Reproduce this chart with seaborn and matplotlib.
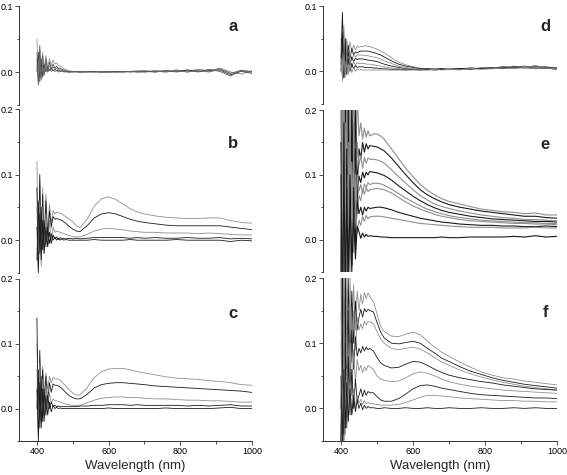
import numpy as np
import pandas as pd
import matplotlib
matplotlib.use("Agg")
import matplotlib.pyplot as plt
import seaborn as sns
from matplotlib.ticker import MultipleLocator, FormatStrFormatter

# ------------------------------
# Data
# ------------------------------
wl = [400, 404, 408, 412, 416, 420, 425, 430, 435, 440, 445, 450, 455, 460, 465, 470, 475, 480,
      490, 500, 510, 520, 540, 560, 580, 600, 620, 640, 660, 680, 700, 730, 760, 790, 820, 850,
      880, 910, 940, 970, 1000]

# panel a
a1 = [0.05, -0.015, 0.035, -0.005, 0.03, 0.0, 0.025, 0.008, 0.02, 0.01, 0.018, 0.012, 0.014, 0.01, 0.009, 0.007, 0.005, 0.004,
      0.002, 0.001, 0.0, 0.001, 0.0, 0.001, -0.001, 0.0, 0.001, 0.0, 0.001, 0.002, 0.001, 0.002, 0.0, 0.003, 0.001, 0.004, 0.002, 0.005, -0.002, 0.003, 0.001]
a2 = [0.02, -0.02, 0.04, -0.01, 0.025, -0.005, 0.02, 0.0, 0.015, 0.005, 0.012, 0.006, 0.009, 0.005, 0.006, 0.004, 0.003, 0.002,
      0.001, 0.0, 0.001, 0.0, 0.001, 0.0, 0.0, 0.001, 0.0, 0.001, 0.0, 0.001, 0.002, 0.0, 0.002, 0.001, 0.003, 0.0, 0.004, 0.001, -0.006, 0.002, 0.0]
a3 = [0.03, -0.01, 0.02, -0.012, 0.02, -0.004, 0.012, 0.002, 0.01, 0.004, 0.008, 0.004, 0.006, 0.003, 0.004, 0.002, 0.002, 0.001,
      0.0, 0.001, 0.0, 0.0, 0.001, 0.0, 0.001, 0.0, 0.0, 0.001, 0.0, 0.001, 0.0, 0.002, 0.001, 0.003, 0.0, 0.004, 0.001, 0.006, 0.0, -0.003, 0.002]
a4 = [0.0, 0.03, -0.015, 0.02, -0.008, 0.012, 0.0, 0.008, 0.002, 0.006, 0.002, 0.004, 0.002, 0.003, 0.001, 0.002, 0.001, 0.001,
      0.0, 0.0, 0.001, 0.0, 0.0, 0.001, 0.0, 0.0, 0.001, 0.0, 0.001, 0.0, 0.001, 0.0, 0.002, 0.0, 0.003, 0.001, 0.002, 0.003, -0.004, 0.001, -0.002]
a5 = [0.01, -0.01, 0.015, -0.006, 0.01, -0.003, 0.006, 0.0, 0.004, 0.001, 0.003, 0.001, 0.002, 0.0, 0.001, 0.001, 0.0, 0.0,
      0.0, 0.001, 0.0, 0.0, 0.0, 0.0, 0.001, 0.0, 0.0, 0.0, 0.001, 0.0, 0.0, 0.001, 0.0, 0.002, 0.0, 0.002, 0.0, 0.004, -0.002, 0.002, 0.0]

# panel b
b1 = [0.12, -0.02, 0.09, -0.03, 0.08, 0.0, 0.07, 0.01, 0.055, 0.025, 0.045, 0.04, 0.043, 0.042, 0.041, 0.04, 0.038, 0.036,
      0.032, 0.028, 0.022, 0.019, 0.032, 0.052, 0.063, 0.066, 0.062, 0.055, 0.048, 0.043, 0.04, 0.037, 0.035, 0.034, 0.033, 0.033, 0.034, 0.034, 0.03, 0.027, 0.026]
b2 = [0.08, -0.04, 0.1, -0.02, 0.07, -0.01, 0.06, 0.0, 0.045, 0.02, 0.036, 0.032, 0.033, 0.032, 0.031, 0.03, 0.028, 0.026,
      0.021, 0.017, 0.014, 0.013, 0.022, 0.034, 0.04, 0.042, 0.04, 0.036, 0.032, 0.029, 0.027, 0.025, 0.023, 0.022, 0.022, 0.022, 0.022, 0.022, 0.02, 0.018, 0.016]
b3 = [0.05, -0.03, 0.06, -0.04, 0.05, -0.02, 0.04, -0.01, 0.03, 0.0, 0.02, 0.012, 0.014, 0.013, 0.012, 0.011, 0.01, 0.009,
      0.007, 0.006, 0.005, 0.005, 0.009, 0.014, 0.017, 0.018, 0.017, 0.016, 0.014, 0.013, 0.012, 0.012, 0.011, 0.011, 0.011, 0.01, 0.011, 0.01, 0.009, 0.008, 0.008]
b4 = [0.02, -0.05, 0.04, -0.03, 0.03, -0.02, 0.02, -0.01, 0.012, -0.005, 0.008, 0.002, 0.005, 0.001, 0.004, 0.002, 0.003, 0.002,
      0.003, 0.002, 0.003, 0.002, 0.003, 0.004, 0.004, 0.004, 0.004, 0.004, 0.003, 0.004, 0.003, 0.004, 0.003, 0.003, 0.004, 0.003, 0.003, 0.004, 0.002, 0.003, 0.002]
b5 = [-0.03, 0.06, -0.02, 0.05, -0.015, 0.03, -0.01, 0.02, -0.005, 0.01, 0.0, 0.005, 0.0, 0.003, 0.0, 0.002, 0.0, 0.001,
      0.0, 0.0, 0.0, 0.0, 0.0, 0.001, 0.0, 0.0, 0.0, 0.0, 0.001, 0.0, 0.0, 0.0, 0.0, 0.001, 0.0, 0.0, 0.0, 0.0, -0.002, 0.0, -0.001]

# panel c
c1 = [0.1, 0.0, 0.08, 0.01, 0.065, 0.02, 0.055, 0.03, 0.05, 0.04, 0.048, 0.046, 0.046, 0.045, 0.044, 0.041, 0.038, 0.035,
      0.029, 0.024, 0.021, 0.021, 0.032, 0.048, 0.057, 0.061, 0.062, 0.062, 0.06, 0.057, 0.055, 0.052, 0.049, 0.047, 0.046, 0.045, 0.043, 0.042, 0.04, 0.037, 0.036]
c2 = [0.14, -0.03, 0.09, -0.02, 0.06, 0.0, 0.05, 0.01, 0.04, 0.025, 0.038, 0.036, 0.036, 0.035, 0.033, 0.031, 0.028, 0.025,
      0.02, 0.017, 0.015, 0.015, 0.022, 0.032, 0.037, 0.039, 0.04, 0.04, 0.039, 0.038, 0.037, 0.035, 0.034, 0.033, 0.032, 0.031, 0.03, 0.029, 0.028, 0.027, 0.025]
c3 = [0.06, -0.04, 0.07, -0.02, 0.045, -0.01, 0.035, 0.0, 0.025, 0.008, 0.015, 0.012, 0.012, 0.011, 0.01, 0.009, 0.008, 0.007,
      0.006, 0.005, 0.005, 0.005, 0.009, 0.013, 0.016, 0.017, 0.018, 0.018, 0.017, 0.017, 0.016, 0.015, 0.015, 0.014, 0.013, 0.013, 0.012, 0.012, 0.011, 0.01, 0.01]
c4 = [0.0, 0.06, -0.03, 0.05, -0.02, 0.03, -0.01, 0.02, 0.0, 0.01, 0.003, 0.005, 0.003, 0.004, 0.003, 0.003, 0.003, 0.003,
      0.003, 0.003, 0.003, 0.004, 0.004, 0.005, 0.005, 0.006, 0.006, 0.006, 0.005, 0.006, 0.005, 0.005, 0.005, 0.005, 0.004, 0.005, 0.004, 0.005, 0.006, 0.004, 0.004]
c5 = [0.03, -0.05, 0.04, -0.03, 0.03, -0.02, 0.02, -0.01, 0.01, -0.005, 0.005, 0.0, 0.002, 0.0, 0.001, 0.0, 0.0, 0.0,
      0.0, 0.0, 0.0, 0.0, 0.0, 0.0, 0.0, 0.001, 0.0, 0.0, 0.0, 0.0, 0.0, 0.0, 0.001, 0.0, 0.0, 0.0, 0.0, 0.001, 0.002, 0.0, 0.0]

# panel d
d1 = [0.05, 0.01, 0.07, 0.02, 0.05, 0.025, 0.045, 0.03, 0.04, 0.033, 0.038, 0.037, 0.038, 0.038, 0.039, 0.039, 0.038, 0.038,
      0.036, 0.034, 0.031, 0.028, 0.021, 0.014, 0.01, 0.007, 0.005, 0.004, 0.004, 0.003, 0.004, 0.003, 0.005, 0.004, 0.006, 0.005, 0.008, 0.006, 0.009, 0.005, 0.006]
d2 = [0.02, 0.09, 0.0, 0.05, 0.015, 0.04, 0.02, 0.035, 0.025, 0.03, 0.028, 0.03, 0.031, 0.031, 0.031, 0.031, 0.031, 0.03,
      0.029, 0.027, 0.025, 0.022, 0.016, 0.011, 0.008, 0.006, 0.004, 0.003, 0.003, 0.004, 0.003, 0.004, 0.004, 0.005, 0.005, 0.007, 0.006, 0.008, 0.006, 0.007, 0.004]
d3 = [0.03, -0.005, 0.05, 0.0, 0.035, 0.01, 0.03, 0.018, 0.025, 0.022, 0.025, 0.025, 0.025, 0.025, 0.024, 0.024, 0.024, 0.023,
      0.022, 0.021, 0.019, 0.016, 0.012, 0.008, 0.006, 0.004, 0.003, 0.003, 0.004, 0.003, 0.004, 0.003, 0.005, 0.004, 0.006, 0.005, 0.007, 0.006, 0.008, 0.004, 0.006]
d4 = [0.0, 0.06, -0.01, 0.04, 0.005, 0.03, 0.01, 0.022, 0.015, 0.02, 0.018, 0.019, 0.019, 0.019, 0.018, 0.018, 0.017, 0.017,
      0.016, 0.015, 0.013, 0.011, 0.008, 0.006, 0.004, 0.003, 0.003, 0.004, 0.003, 0.004, 0.003, 0.004, 0.005, 0.004, 0.006, 0.004, 0.007, 0.005, 0.007, 0.005, 0.005]
d5 = [0.04, -0.015, 0.03, -0.005, 0.025, 0.0, 0.02, 0.005, 0.015, 0.01, 0.013, 0.012, 0.012, 0.012, 0.012, 0.011, 0.011, 0.011,
      0.01, 0.009, 0.008, 0.007, 0.005, 0.004, 0.003, 0.003, 0.003, 0.002, 0.003, 0.003, 0.004, 0.003, 0.004, 0.005, 0.005, 0.006, 0.006, 0.007, 0.006, 0.005, 0.004]
d6 = [0.01, 0.05, -0.01, 0.03, -0.005, 0.02, 0.0, 0.012, 0.004, 0.009, 0.006, 0.007, 0.007, 0.007, 0.006, 0.006, 0.006, 0.006,
      0.005, 0.005, 0.004, 0.004, 0.003, 0.003, 0.002, 0.003, 0.002, 0.003, 0.002, 0.003, 0.003, 0.004, 0.003, 0.005, 0.004, 0.006, 0.005, 0.006, 0.004, 0.005, 0.003]
d7 = [0.02, -0.01, 0.025, -0.008, 0.015, -0.005, 0.01, -0.002, 0.006, 0.0, 0.004, 0.002, 0.003, 0.002, 0.002, 0.002, 0.002, 0.002,
      0.002, 0.002, 0.002, 0.002, 0.002, 0.002, 0.002, 0.002, 0.002, 0.002, 0.003, 0.002, 0.003, 0.002, 0.004, 0.003, 0.004, 0.005, 0.004, 0.006, 0.004, 0.005, 0.003]

# panel e
e1 = [0.3, -0.1, 0.35, -0.05, 0.28, 0.02, 0.3, 0.05, 0.25, 0.1, 0.22, 0.16, 0.18, 0.155, 0.172, 0.158, 0.168, 0.16,
      0.163, 0.163, 0.16, 0.155, 0.14, 0.125, 0.11, 0.097, 0.085, 0.076, 0.069, 0.063, 0.059, 0.055, 0.051, 0.047, 0.045, 0.043, 0.042, 0.04, 0.041, 0.038, 0.038]
e2 = [-0.1, 0.4, -0.05, 0.3, 0.0, 0.25, -0.02, 0.22, 0.05, 0.2, 0.08, 0.14, 0.125, 0.15, 0.135, 0.148, 0.14, 0.145,
      0.144, 0.143, 0.14, 0.137, 0.126, 0.113, 0.1, 0.088, 0.077, 0.069, 0.063, 0.058, 0.054, 0.05, 0.047, 0.044, 0.042, 0.04, 0.038, 0.036, 0.036, 0.034, 0.033]
e3 = [0.25, -0.05, 0.3, -0.1, 0.22, -0.04, 0.2, 0.0, 0.18, 0.04, 0.15, 0.115, 0.13, 0.11, 0.127, 0.118, 0.126, 0.124,
      0.124, 0.123, 0.121, 0.118, 0.108, 0.097, 0.087, 0.077, 0.068, 0.061, 0.055, 0.051, 0.048, 0.044, 0.041, 0.038, 0.036, 0.034, 0.033, 0.031, 0.031, 0.03, 0.029]
e4 = [-0.05, 0.3, -0.1, 0.25, -0.05, 0.2, 0.0, 0.17, 0.03, 0.14, 0.06, 0.098, 0.088, 0.104, 0.095, 0.104, 0.1, 0.105,
      0.104, 0.103, 0.101, 0.099, 0.092, 0.083, 0.075, 0.067, 0.06, 0.054, 0.049, 0.045, 0.042, 0.039, 0.036, 0.034, 0.032, 0.031, 0.03, 0.029, 0.028, 0.028, 0.027]
e5 = [0.2, -0.1, 0.25, -0.08, 0.2, -0.05, 0.15, -0.02, 0.12, 0.02, 0.1, 0.075, 0.085, 0.072, 0.086, 0.08, 0.088, 0.085,
      0.087, 0.087, 0.086, 0.084, 0.078, 0.071, 0.064, 0.058, 0.052, 0.047, 0.043, 0.04, 0.037, 0.034, 0.032, 0.03, 0.029, 0.028, 0.027, 0.026, 0.026, 0.025, 0.025]
e6 = [-0.1, 0.22, -0.08, 0.18, -0.06, 0.15, -0.03, 0.12, 0.0, 0.1, 0.04, 0.068, 0.06, 0.078, 0.07, 0.08, 0.074, 0.077,
      0.078, 0.079, 0.078, 0.077, 0.072, 0.065, 0.058, 0.052, 0.047, 0.043, 0.039, 0.036, 0.034, 0.031, 0.029, 0.028, 0.027, 0.026, 0.025, 0.025, 0.024, 0.024, 0.023]
e7 = [0.15, -0.12, 0.18, -0.1, 0.14, -0.07, 0.1, -0.04, 0.08, -0.01, 0.06, 0.04, 0.05, 0.038, 0.05, 0.044, 0.05, 0.048,
      0.049, 0.05, 0.05, 0.049, 0.046, 0.042, 0.039, 0.036, 0.033, 0.031, 0.029, 0.027, 0.026, 0.024, 0.023, 0.022, 0.022, 0.021, 0.021, 0.02, 0.02, 0.021, 0.02]
e8 = [-0.12, 0.15, -0.1, 0.12, -0.08, 0.1, -0.05, 0.07, -0.02, 0.05, 0.01, 0.03, 0.022, 0.036, 0.028, 0.037, 0.032, 0.035,
      0.036, 0.036, 0.036, 0.035, 0.033, 0.031, 0.029, 0.027, 0.025, 0.024, 0.023, 0.022, 0.021, 0.02, 0.019, 0.019, 0.019, 0.018, 0.018, 0.018, 0.019, 0.018, 0.018]
e9 = [0.1, -0.15, 0.12, -0.1, 0.08, -0.08, 0.06, -0.05, 0.04, -0.03, 0.02, 0.012, 0.002, 0.01, 0.004, 0.008, 0.005, 0.006,
      0.005, 0.005, 0.004, 0.004, 0.003, 0.003, 0.003, 0.003, 0.003, 0.003, 0.003, 0.004, 0.003, 0.003, 0.004, 0.004, 0.004, 0.004, 0.005, 0.004, 0.006, 0.004, 0.005]

# panel f
f1 = [0.25, -0.05, 0.22, 0.0, 0.2, 0.05, 0.2, 0.1, 0.19, 0.12, 0.18, 0.15, 0.175, 0.16, 0.178, 0.168, 0.177, 0.172,
      0.164, 0.145, 0.126, 0.118, 0.111, 0.11, 0.114, 0.117, 0.113, 0.103, 0.094, 0.086, 0.08, 0.071, 0.063, 0.056, 0.051, 0.047, 0.045, 0.042, 0.04, 0.038, 0.036]
f2 = [-0.05, 0.25, 0.0, 0.22, 0.03, 0.2, 0.08, 0.18, 0.1, 0.165, 0.12, 0.14, 0.152, 0.14, 0.153, 0.148, 0.152, 0.15,
      0.148, 0.132, 0.117, 0.108, 0.1, 0.099, 0.101, 0.103, 0.1, 0.092, 0.085, 0.077, 0.072, 0.064, 0.057, 0.052, 0.047, 0.043, 0.04, 0.037, 0.035, 0.033, 0.031]
f3 = [0.2, -0.05, 0.2, 0.0, 0.18, 0.03, 0.16, 0.07, 0.15, 0.09, 0.14, 0.12, 0.13, 0.122, 0.134, 0.128, 0.133, 0.133,
      0.13, 0.118, 0.107, 0.1, 0.092, 0.09, 0.092, 0.094, 0.091, 0.085, 0.078, 0.071, 0.066, 0.059, 0.053, 0.048, 0.044, 0.04, 0.037, 0.034, 0.032, 0.03, 0.028]
f4 = [0.0, 0.2, -0.04, 0.17, 0.0, 0.15, 0.03, 0.12, 0.06, 0.11, 0.08, 0.092, 0.085, 0.095, 0.088, 0.094, 0.09, 0.092,
      0.088, 0.078, 0.07, 0.066, 0.062, 0.063, 0.068, 0.072, 0.071, 0.066, 0.06, 0.055, 0.051, 0.047, 0.044, 0.041, 0.039, 0.036, 0.034, 0.032, 0.03, 0.029, 0.028]
f5 = [0.15, -0.05, 0.14, -0.03, 0.12, 0.0, 0.1, 0.02, 0.09, 0.04, 0.075, 0.058, 0.066, 0.055, 0.064, 0.058, 0.066, 0.064,
      0.06, 0.05, 0.045, 0.043, 0.041, 0.042, 0.047, 0.053, 0.056, 0.054, 0.05, 0.045, 0.041, 0.037, 0.034, 0.032, 0.03, 0.028, 0.027, 0.026, 0.025, 0.024, 0.023]
f6 = [-0.05, 0.12, -0.05, 0.1, -0.03, 0.08, -0.01, 0.06, 0.0, 0.045, 0.01, 0.02, 0.03, 0.018, 0.028, 0.02, 0.026, 0.024,
      0.024, 0.018, 0.013, 0.011, 0.011, 0.015, 0.022, 0.03, 0.035, 0.036, 0.034, 0.031, 0.029, 0.026, 0.023, 0.021, 0.02, 0.019, 0.018, 0.017, 0.016, 0.016, 0.015]
f7 = [0.1, -0.05, 0.08, -0.04, 0.06, -0.02, 0.04, -0.01, 0.03, 0.0, 0.02, 0.008, 0.014, 0.006, 0.012, 0.007, 0.009, 0.008,
      0.007, 0.006, 0.005, 0.005, 0.005, 0.006, 0.009, 0.013, 0.017, 0.02, 0.02, 0.019, 0.018, 0.016, 0.015, 0.014, 0.013, 0.012, 0.012, 0.011, 0.011, 0.01, 0.01]
f8 = [0.05, -0.05, 0.06, -0.03, 0.04, -0.02, 0.03, -0.01, 0.02, -0.005, 0.012, 0.0, 0.008, -0.002, 0.005, 0.0, 0.003, 0.001,
      0.001, 0.0, 0.0, 0.001, 0.0, 0.0, 0.001, 0.0, 0.0, 0.001, 0.0, 0.0, 0.001, 0.0, 0.0, 0.001, 0.0, 0.0, 0.001, 0.0, 0.001, 0.0, 0.0]

DARK = "#1a1a1a"
LIGHT = "#8f8f8f"

# ------------------------------
# Figure
# ------------------------------
sns.set_style("ticks")
plt.rcParams["font.family"] = ["Liberation Sans", "DejaVu Sans"]

fig = plt.figure(figsize=(5.67, 4.75), dpi=100)

W, H = 567.0, 475.0


def panel(left_px, right_px, top_px, bot_px, curves, colors, ylim, letter, bottom_axis=False, lw=0.6):
    ax = fig.add_axes([left_px / W, 1 - bot_px / H, (right_px - left_px) / W, (bot_px - top_px) / H])
    frames = []
    for i, ys in enumerate(curves):
        assert len(ys) == len(wl), (letter, i, len(ys))
        frames.append(pd.DataFrame({"wl": wl, "val": ys, "curve": f"s{i}"}))
    df = pd.concat(frames, ignore_index=True)
    sns.lineplot(data=df, x="wl", y="val", hue="curve", palette=colors, estimator=None,
                 sort=False, legend=False, linewidth=lw, ax=ax)
    ax.set_xlim(350, 1000)
    ax.set_ylim(*ylim)
    ax.set_yticks([t for t in (0.0, 0.1, 0.2) if t <= ylim[1] + 1e-9])
    ax.yaxis.set_minor_locator(MultipleLocator(0.05))
    ax.yaxis.set_major_formatter(FormatStrFormatter("%.1f"))
    ax.set_ylabel("")
    for s in ("top", "right"):
        ax.spines[s].set_visible(False)
    for s in ("left", "bottom"):
        ax.spines[s].set_linewidth(0.7)
        ax.spines[s].set_color("#333333")
    ax.tick_params(which="both", direction="out", width=0.6, colors="#333333", labelcolor="black",
                   labelsize=6.5, pad=1.5)
    ax.tick_params(which="major", length=3)
    ax.tick_params(which="minor", length=1.8)
    if bottom_axis:
        ax.set_xticks([400, 600, 800, 1000])
        ax.xaxis.set_minor_locator(MultipleLocator(100))
        ax.set_xlabel("Wavelength (nm)", fontsize=9.5, labelpad=3)
    else:
        ax.spines["bottom"].set_visible(False)
        ax.tick_params(axis="x", which="both", bottom=False, labelbottom=False)
        ax.set_xlabel("")
    ax.text(0.92 if left_px < 200 else 0.95, 0.79, letter, transform=ax.transAxes,
            ha="center", va="center", fontsize=12, fontweight="bold")
    ax.patch.set_alpha(0)
    return ax


alt5 = [LIGHT, DARK, LIGHT, DARK, DARK]
panel(19, 252, 6, 105, [a1, a2, a3, a4, a5], ["#9a9a9a", "#555555", "#7a7a7a", "#444444", "#666666"], (-0.05, 0.1), "a")
panel(19, 252, 109, 273, [b1, b2, b3, b4, b5], alt5, (-0.05, 0.2), "b")
panel(19, 252, 279, 441, [c1, c2, c3, c4, c5], alt5, (-0.05, 0.2), "c", bottom_axis=True)

panel(323, 557, 6, 104, [d1, d2, d3, d4, d5, d6, d7],
      [LIGHT, DARK, LIGHT, DARK, LIGHT, DARK, LIGHT], (-0.05, 0.1), "d")
panel(323, 557, 110, 272, [e1, e2, e3, e4, e5, e6, e7, e8, e9],
      [LIGHT, DARK, LIGHT, DARK, LIGHT, LIGHT, DARK, LIGHT, DARK], (-0.05, 0.2), "e", lw=0.8)
panel(323, 557, 278, 441, [f1, f2, f3, f4, f5, f6, f7, f8],
      [LIGHT, DARK, LIGHT, DARK, LIGHT, DARK, LIGHT, DARK], (-0.05, 0.2), "f", bottom_axis=True)

fig.savefig("out.png", dpi=100)
